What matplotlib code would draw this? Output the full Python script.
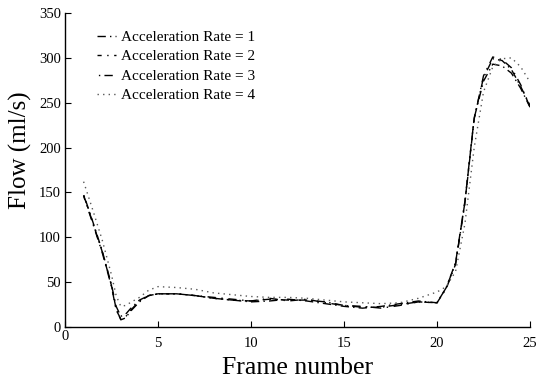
import matplotlib
matplotlib.use("Agg")
import matplotlib.pyplot as plt
import matplotlib.transforms as mtransforms

plt.rcParams['font.family'] = ['Liberation Serif', 'DejaVu Serif']

frames = [1, 1.5, 2, 2.5, 2.75, 3, 3.25, 3.5, 4, 4.5, 5, 6, 7, 8, 9, 10, 11, 12, 13,
          14, 15, 16, 17, 18, 19, 20, 20.5, 21, 21.5, 22, 22.5, 23, 23.5, 24, 24.5, 25]

rate1 = [147, 116, 84, 46, 20, 8, 10, 17, 28, 35, 37, 37, 35, 32, 30, 28, 29, 31, 29,
         26, 23, 21, 23, 26, 29, 27, 44, 72, 140, 233, 274, 293, 291, 283, 266, 245]
rate2 = [146, 115, 83, 45, 19, 9, 11, 18, 29, 35, 37, 37, 35, 33, 31, 29, 32, 29, 31,
         27, 24, 23, 21, 24, 28, 27, 43, 70, 138, 232, 280, 301, 298, 289, 270, 245]
rate3 = [148, 117, 85, 47, 23, 12, 14, 20, 30, 35, 37, 37, 35, 32, 30, 29, 31, 30, 30,
         28, 24, 22, 22, 25, 28, 27, 44, 71, 139, 233, 278, 299, 297, 287, 268, 247]
rate4 = [162, 130, 97, 58, 35, 23, 24, 27, 33, 41, 45, 44, 42, 38, 36, 34, 33, 33, 32,
         30, 28, 27, 26, 27, 32, 39, 45, 62, 115, 200, 262, 290, 299, 300, 290, 273]

labels = ['Acceleration Rate = 1', 'Acceleration Rate = 2',
          'Acceleration Rate = 3', 'Acceleration Rate = 4']
xticks = [0, 5, 10, 15, 20, 25]
yticks = [0, 50, 100, 150, 200, 250, 300, 350]

fig = plt.figure(figsize=(5.42, 3.81), dpi=100)
ax = fig.add_axes([65 / 542, 1 - 327 / 381, 465 / 542, 314 / 381])

styles = [(0, (6, 3, 1, 3)), (3, (6, 4, 1, 4)), (8, (6, 3, 1, 3)), (0, (1, 3))]
colors = ['black', 'black', 'black', '0.35']
for ys, ls, c, lab in zip([rate1, rate2, rate3, rate4], styles, colors, labels):
    ax.plot(frames, ys, color=c, linestyle=ls, linewidth=1.0, label=lab)

ax.set_xlim(0, 25)
ax.set_ylim(0, 350)
ax.set_xticks(xticks)
ax.set_yticks(yticks)
ax.spines['top'].set_visible(False)
ax.spines['right'].set_visible(False)
for s in ['left', 'bottom']:
    ax.spines[s].set_linewidth(1.0)
ax.tick_params(axis='both', direction='in', length=4, width=0.8, labelsize=10.5)
ax.tick_params(axis='x', pad=7)
ax.tick_params(axis='y', pad=3)

# first x tick label sits higher
xl = ax.get_xticklabels()
xl[0].set_transform(xl[0].get_transform() +
                    mtransforms.ScaledTranslation(0, 5 / 72, fig.dpi_scale_trans))

ax.set_xlabel('Frame number', fontsize=18.5)
ax.set_ylabel('Flow (ml/s)', fontsize=18)
ax.xaxis.set_label_coords(0.5, -0.094)
ax.yaxis.set_label_coords(-0.072, 0.564)

ax.legend(loc='upper left', bbox_to_anchor=(0.068, 0.945), frameon=False,
          fontsize=11, handlelength=1.3, handletextpad=0.3, labelspacing=0.38,
          borderpad=0, borderaxespad=0)

fig.savefig('out.png', dpi=100)
